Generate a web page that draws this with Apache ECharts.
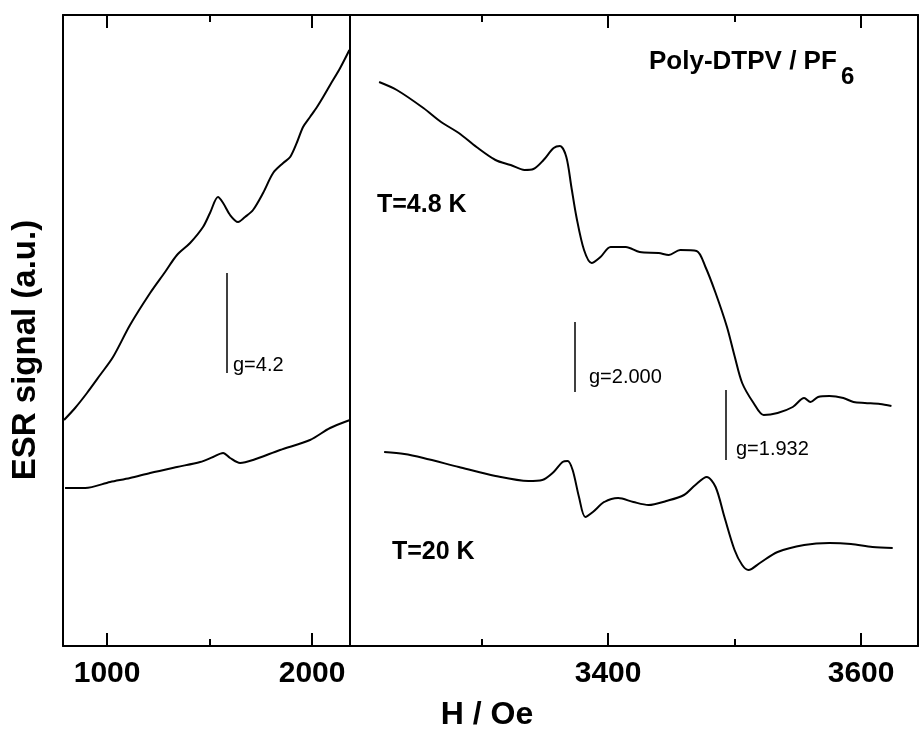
<!DOCTYPE html>
<html>
<head>
<meta charset="utf-8">
<script src="https://cdn.jsdelivr.net/npm/echarts@6/dist/echarts.min.js"></script>
<style>
  html, body { margin: 0; padding: 0; background: #fff; }
  #chart { width: 919px; height: 734px; }
</style>
</head>
<body>
<div id="chart"></div>
<script>
// low-field panel (Oe), T=4.8 K
var lowH48 = [790, 844, 902, 966, 1029, 1112, 1210, 1283, 1341, 1405, 1468, 1502, 1541, 1566, 1600, 1639, 1673, 1712, 1761, 1810, 1859, 1893, 1927, 1956, 1990, 2024, 2054, 2088, 2137, 2182];
var lowSig48 = [226, 238, 253, 271, 289, 321, 353, 374, 391, 403, 419, 433, 449, 443, 431, 424, 429, 436, 453, 473, 483, 489, 504, 519, 529, 539, 549, 561, 578, 596];
// low-field panel, T=20 K
var lowH20 = [795, 893, 1015, 1112, 1210, 1341, 1454, 1517, 1566, 1600, 1649, 1712, 1844, 1990, 2088, 2185];
var lowSig20 = [158, 158, 164, 168, 173, 179, 184, 189, 193, 188, 183, 186, 196, 206, 218, 226];
// g=2 region, T=4.8 K
var highH48 = [3219, 3233, 3254, 3268, 3282, 3296, 3311, 3323, 3334, 3341, 3349, 3357, 3362, 3367, 3371, 3375, 3381, 3387, 3394, 3402, 3414, 3425, 3440, 3448, 3457, 3470, 3477, 3485, 3494, 3500, 3506, 3515, 3523, 3534, 3546, 3555, 3560, 3566, 3575, 3586, 3594, 3603, 3615, 3624];
var highSig48 = [564, 556, 538, 524, 513, 499, 486, 481, 476, 477, 486, 498, 500, 489, 459, 429, 396, 383, 389, 399, 399, 394, 393, 391, 396, 395, 379, 353, 319, 290, 263, 243, 231, 233, 239, 248, 244, 249, 250, 248, 244, 243, 242, 240];
// g=2 region, T=20 K
var highH20 = [3223, 3239, 3254, 3282, 3311, 3337, 3348, 3357, 3364, 3368, 3372, 3377, 3382, 3388, 3397, 3408, 3420, 3432, 3446, 3460, 3469, 3478, 3485, 3492, 3500, 3506, 3511, 3520, 3534, 3555, 3575, 3592, 3609, 3625];
var highSig20 = [194, 192, 188, 179, 170, 165, 166, 174, 184, 185, 176, 149, 129, 134, 144, 148, 144, 141, 145, 151, 161, 169, 159, 129, 96, 81, 76, 83, 94, 101, 103, 102, 99, 98];

// tick labels
var lowMajor = [1000, 2000];
var lowMinor = [1500];
var highMajor = [3400, 3600];
var highMinor = [3300, 3500];

// g-value markers: field, signal from, signal to
var gLow = [1585, 273, 373];
var gHigh1 = [3374, 254, 324];
var gHigh2 = [3493, 186, 256];

var FONT = '"Liberation Sans", Arial, sans-serif';

function zip(xs, ys) {
    return xs.map(function (x, i) { return [x, ys[i]]; });
}
function gLine(g) {
    return [{ coord: [g[0], g[1]] }, { coord: [g[0], g[2]] }];
}

function xAx(grid, pos, min, max, ticks, len, labels) {
    return {
        type: 'value', gridIndex: grid, position: pos, min: min, max: max,
        axisLine: { show: len > 10, onZero: false, lineStyle: { color: '#000', width: 2 } },
        axisTick: { show: true, inside: true, length: len, customValues: ticks, lineStyle: { color: '#000', width: 2 } },
        axisLabel: labels ? {
            show: true, customValues: ticks, margin: 13,
            formatter: function (v) { return String(v); },
            color: '#000', fontSize: 30, fontWeight: 'bold', fontFamily: FONT
        } : { show: false },
        splitLine: { show: false }
    };
}
function yAx(grid, pos, show) {
    return {
        type: 'value', gridIndex: grid, position: pos, min: 0, max: 631,
        axisLine: { show: show, onZero: false, lineStyle: { color: '#000', width: 2 } },
        axisTick: { show: false }, axisLabel: { show: false }, splitLine: { show: false }
    };
}

var lineStyle = { color: '#000', width: 2 };
var gStyle = { color: '#000', width: 1.5, type: 'solid' };

var option = {
    backgroundColor: '#fff',
    animation: false,
    grid: [
        { left: 63, top: 15, width: 287, height: 631 },
        { left: 350, top: 15, width: 568, height: 631 }
    ],
    xAxis: [
        xAx(0, 'bottom', 785, 2185, lowMajor, 13, true),
        xAx(0, 'bottom', 785, 2185, lowMinor, 7, false),
        xAx(0, 'top', 785, 2185, lowMajor, 13, false),
        xAx(0, 'top', 785, 2185, lowMinor, 7, false),
        xAx(1, 'bottom', 3196, 3645, highMajor, 13, true),
        xAx(1, 'bottom', 3196, 3645, highMinor, 7, false),
        xAx(1, 'top', 3196, 3645, highMajor, 13, false),
        xAx(1, 'top', 3196, 3645, highMinor, 7, false)
    ],
    yAxis: [
        yAx(0, 'left', true),
        yAx(0, 'right', true),
        yAx(1, 'right', true)
    ],
    series: [
        {
            name: 'T=4.8 K low', type: 'line', xAxisIndex: 0, yAxisIndex: 0,
            data: zip(lowH48, lowSig48), showSymbol: false, smooth: 0.3, lineStyle: lineStyle,
            markLine: { silent: true, symbol: 'none', label: { show: false }, lineStyle: gStyle, data: [gLine(gLow)] }
        },
        {
            name: 'T=20 K low', type: 'line', xAxisIndex: 0, yAxisIndex: 0,
            data: zip(lowH20, lowSig20), showSymbol: false, smooth: 0.3, lineStyle: lineStyle
        },
        {
            name: 'T=4.8 K', type: 'line', xAxisIndex: 4, yAxisIndex: 2,
            data: zip(highH48, highSig48), showSymbol: false, smooth: 0.3, lineStyle: lineStyle,
            markLine: { silent: true, symbol: 'none', label: { show: false }, lineStyle: gStyle, data: [gLine(gHigh1), gLine(gHigh2)] }
        },
        {
            name: 'T=20 K', type: 'line', xAxisIndex: 4, yAxisIndex: 2,
            data: zip(highH20, highSig20), showSymbol: false, smooth: 0.3, lineStyle: lineStyle
        }
    ],
    graphic: [
        { type: 'text', x: 233, y: 365, style: { text: 'g=4.2', fill: '#000', font: '20px ' + FONT, verticalAlign: 'middle' } },
        { type: 'text', x: 589, y: 377, style: { text: 'g=2.000', fill: '#000', font: '20px ' + FONT, verticalAlign: 'middle' } },
        { type: 'text', x: 736, y: 449, style: { text: 'g=1.932', fill: '#000', font: '20px ' + FONT, verticalAlign: 'middle' } },
        { type: 'text', x: 377, y: 205, style: { text: 'T=4.8 K', fill: '#000', font: 'bold 25px ' + FONT, verticalAlign: 'middle' } },
        { type: 'text', x: 392, y: 552, style: { text: 'T=20 K', fill: '#000', font: 'bold 25px ' + FONT, verticalAlign: 'middle' } },
        { type: 'text', x: 649, y: 62, style: { text: 'Poly-DTPV / PF', fill: '#000', font: 'bold 26px ' + FONT, verticalAlign: 'middle' } },
        { type: 'text', x: 841, y: 77, style: { text: '6', fill: '#000', font: 'bold 24px ' + FONT, verticalAlign: 'middle' } },
        { type: 'text', x: 487, y: 715, style: { text: 'H / Oe', fill: '#000', font: 'bold 32px ' + FONT, align: 'center', verticalAlign: 'middle' } },
        { type: 'text', x: 26, y: 350, rotation: Math.PI / 2, style: { text: 'ESR signal (a.u.)', fill: '#000', font: 'bold 33px ' + FONT, align: 'center', verticalAlign: 'middle' } }
    ]
};

var myChart = echarts.init(document.getElementById('chart'));
myChart.setOption(option);
</script>
</body>
</html>
